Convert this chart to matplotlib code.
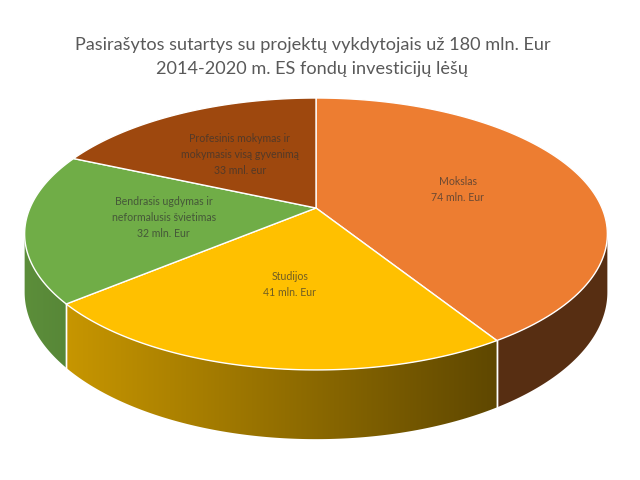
import numpy as np
import matplotlib
matplotlib.use("Agg")
import matplotlib.pyplot as plt
from matplotlib.patches import Polygon

plt.rcParams['font.family'] = ['Lato', 'DejaVu Sans']

# duomenys
title_lines = ["Pasirašytos sutartys su projektų vykdytojais už 180 mln. Eur",
               "2014-2020 m. ES fondų investicijų lėšų"]
categories = ["Mokslas", "Studijos",
              "Bendrasis ugdymas ir\nneformalusis švietimas",
              "Profesinis mokymas ir\nmokymasis visą gyvenimą"]
values = [74, 41, 32, 33]
value_labels = ["74 mln. Eur", "41 mln. Eur", "32 mln. Eur", "33 mnl. eur"]
colors = ['#ED7D31', '#FFC000', '#70AD47', '#9E480E']

# 3D pyrago geometrija (pikseliai, y aukštyn)
CX, CY = 316, 272
A, B = 286, 131
K = 0.191
H = 56
START = 90


def project(u, v, drop=0.0):
    d = 1 + K * v
    return CX + A * u / d, CY + B * v / d - drop * H / d


def arc(t1, t2, r=1.0, drop=0.0, n=120):
    t = np.radians(np.linspace(t1, t2, n))
    x, y = project(r * np.cos(t), r * np.sin(t), drop)
    return np.column_stack([x, y])


def shade(x):
    return np.interp(x, [25, 497, 610], [0.82, 0.37, 0.37])


fig = plt.figure(figsize=(6.4, 4.8), dpi=100)
ax = fig.add_axes([0, 0, 1, 1])
ax.axis('off')

total = sum(values)
angles = START - np.cumsum([0] + values) / total * 360
vis_lo, vis_hi = -180 + np.degrees(np.arcsin(K)), -np.degrees(np.arcsin(K))

# sienelės
xs = np.arange(640)
for i, c in enumerate(colors):
    a1, a2 = angles[i], angles[i + 1]
    lo, hi = min(a1, a2), max(a1, a2)
    lo2, hi2 = max(lo, vis_lo), min(hi, vis_hi)
    if lo2 >= hi2:
        lo2, hi2 = max(lo + 360, vis_lo), min(hi + 360, vis_hi)
    if lo2 >= hi2:
        continue
    top = arc(hi2, lo2)
    bot = arc(lo2, hi2, drop=1.0)
    poly = Polygon(np.vstack([top, bot]), closed=True, facecolor='none',
                   edgecolor='none')
    ax.add_patch(poly)
    rgb = np.array(matplotlib.colors.to_rgb(c))
    img = (shade(xs)[:, None] * rgb[None, :])[None, :, :]
    im = ax.imshow(img, extent=(0, 640, 0, 480), aspect='auto', zorder=1)
    im.set_clip_path(poly)
    # baltos skiriamosios linijos
    for t in (lo2, hi2):
        if vis_lo < t < vis_hi:
            x0, y0 = project(np.cos(np.radians(t)), np.sin(np.radians(t)))
            x1, y1 = project(np.cos(np.radians(t)), np.sin(np.radians(t)), 1.0)
            ax.plot([x0, x1], [y0, y1], color='white', lw=1.0, zorder=3)

ax.set_xlim(0, 640)
ax.set_ylim(0, 480)

# viršus
for i, c in enumerate(colors):
    a1, a2 = angles[i], angles[i + 1]
    pts = np.vstack([[project(0, 0)], arc(a1, a2)])
    ax.add_patch(Polygon(pts, closed=True, facecolor=c, edgecolor='white',
                         lw=1.0, zorder=4, joinstyle='round'))

# etiketės
for i in range(len(values)):
    mid = np.radians((angles[i] + angles[i + 1]) / 2)
    x, y = project(0.53 * np.cos(mid), 0.53 * np.sin(mid))
    ax.text(x, y, categories[i] + "\n" + value_labels[i], ha='center',
            va='center', fontsize=7.6, color='#333333', alpha=0.7,
            linespacing=1.55, zorder=5)

fig.text(0.488, 0.906, title_lines[0], ha='center', va='center',
         fontsize=13.1, color='#595959')
fig.text(0.488, 0.856, title_lines[1], ha='center', va='center',
         fontsize=13.1, color='#595959')

fig.savefig('out.png', dpi=100)
